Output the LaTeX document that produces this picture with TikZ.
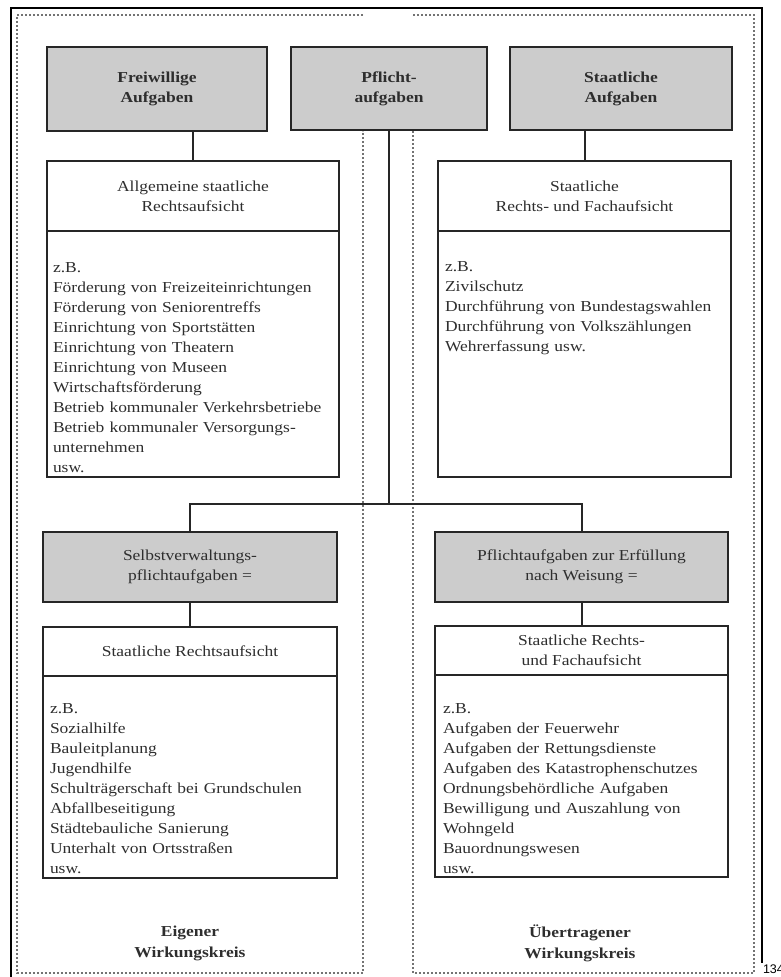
\documentclass[tikz,border=0pt]{standalone}
\usepackage{fontspec}
\setmainfont[FakeStretch=1.15]{Liberation Serif}
\newfontfamily\pagenofont{Liberation Sans}
\usetikzlibrary{positioning}
\colorlet{headcol}{black!20}
\colorlet{framecol}{black!85}
\colorlet{dotcol}{black!55}
\colorlet{textcol}{black!82}

\begin{document}
\begin{tikzpicture}[x=1pt, y=-1pt, font=\fontsize{15.2}{20}\selectfont, text=textcol, outer sep=0pt,
	    headbox/.style={draw=framecol, line width=2.4pt, fill=headcol, align=center, inner sep=0pt},
	    titlebox/.style={draw=framecol, line width=1.5pt, fill=white, align=center, inner sep=0pt},
	    listbox/.style={draw=framecol, line width=1.5pt, fill=white, inner sep=0pt},
	    listtext/.style={text width=290pt, align=left, inner sep=0pt, anchor=north west},
	    link/.style={draw=framecol, line width=2pt},
	    region/.style={draw=dotcol, line width=1.5pt, dash pattern=on 1.6pt off 2.4pt}]
	    \useasboundingbox (0,0) rectangle (781,977);

		% page frame and the two Wirkungskreise
		\draw[black, line width=2pt] (11,977) -- (11,8) -- (762,8) -- (762,963);
		\draw[region] (363,15) -- (17,15) -- (17,973) -- (363,973) -- (363,131);
		\draw[region] (413,131) -- (413,973) -- (754,973) -- (754,15) -- (413,15);

		\node[headbox, minimum width=220, minimum height=84] (freiw) at (157,89) {\bfseries Freiwillige\\\bfseries Aufgaben};
		\node[headbox, minimum width=196, minimum height=83] (pflicht) at (389,88.5) {\bfseries Pflicht-\\\bfseries aufgaben};
		\node[headbox, minimum width=222, minimum height=83] (staatl) at (621,88.5) {\bfseries Staatliche\\\bfseries Aufgaben};

		\node[titlebox, minimum width=292, minimum height=70] (allgTitle) at (193,196) {Allgemeine staatliche\\Rechtsaufsicht};
		\node[listbox, minimum width=292, minimum height=246, below=0pt of allgTitle] (allgList) {};
		\node[listtext] (allgText) at (53,263) {z.B.\\
			Förderung von Freizeiteinrichtungen\\
			Förderung von Seniorentreffs\\
			Einrichtung von Sportstätten\\
			Einrichtung von Theatern\\
			Einrichtung von Museen\\
			Wirtschaftsförderung\\
			Betrieb kommunaler Verkehrsbetriebe\\
			Betrieb kommunaler Versorgungs-\\
			unternehmen\\
			usw.};

		\node[titlebox, minimum width=293, minimum height=70] (staatTitle) at (584.5,196) {Staatliche\\Rechts- und Fachaufsicht};
		\node[listbox, minimum width=293, minimum height=246, below=0pt of staatTitle] (staatList) {};
		\node[listtext] (staatText) at (445,262) {z.B.\\
			Zivilschutz\\
			Durchführung von Bundestagswahlen\\
			Durchführung von Volkszählungen\\
			Wehrerfassung usw.};

		\node[headbox, minimum width=294, minimum height=70] (selbst) at (190,567) {Selbstverwaltungs-\\pflichtaufgaben =};
		\node[titlebox, minimum width=294, minimum height=49] (selbstTitle) at (190,651.5) {Staatliche Rechtsaufsicht};
		\node[listbox, minimum width=294, minimum height=202, below=0pt of selbstTitle] (selbstList) {};
		\node[listtext] (selbstText) at (50,704) {z.B.\\
			Sozialhilfe\\
			Bauleitplanung\\
			Jugendhilfe\\
			Schulträgerschaft bei Grundschulen\\
			Abfallbeseitigung\\
			Städtebauliche Sanierung\\
			Unterhalt von Ortsstraßen\\
			usw.};

		\node[headbox, minimum width=293, minimum height=70] (weisung) at (581.5,567) {Pflichtaufgaben zur Erfüllung\\nach Weisung =};
		\node[titlebox, minimum width=293, minimum height=49] (weisungTitle) at (581.5,650.5) {Staatliche Rechts-\\und Fachaufsicht};
		\node[listbox, minimum width=293, minimum height=202, below=0pt of weisungTitle] (weisungList) {};
		\node[listtext] (weisungText) at (443,704) {z.B.\\
			Aufgaben der Feuerwehr\\
			Aufgaben der Rettungsdienste\\
			Aufgaben des Katastrophenschutzes\\
			Ordnungsbehördliche Aufgaben\\
			Bewilligung und Auszahlung von\\
			Wohngeld\\
			Bauordnungswesen\\
			usw.};

		% connectors
		\coordinate (split) at (389,504);
		\draw[link] (allgTitle.north) -- (allgTitle.north |- freiw.south);
		\draw[link] (staatTitle.north) -- (staatTitle.north |- staatl.south);
		\draw[link] (pflicht.south) -- (split);
		\draw[link] (selbst.north) |- (split) -| (weisung.north);
		\draw[link] (selbst.south) -- (selbstTitle.north);
		\draw[link] (weisung.south) -- (weisungTitle.north);

		\node[align=center, font=\fontsize{15.2}{21}\selectfont\bfseries] (eigen) at (190,943) {Eigener\\Wirkungskreis};
		\node[align=center, font=\fontsize{15.2}{21}\selectfont\bfseries] (uebertr) at (580,943) {Übertragener\\Wirkungskreis};
		\node[anchor=west, inner sep=0pt, text=black, font=\pagenofont\fontsize{12.5}{13}\selectfont] (pageno) at (763,969) {134}; % page number
	  \end{tikzpicture}
\end{document}
